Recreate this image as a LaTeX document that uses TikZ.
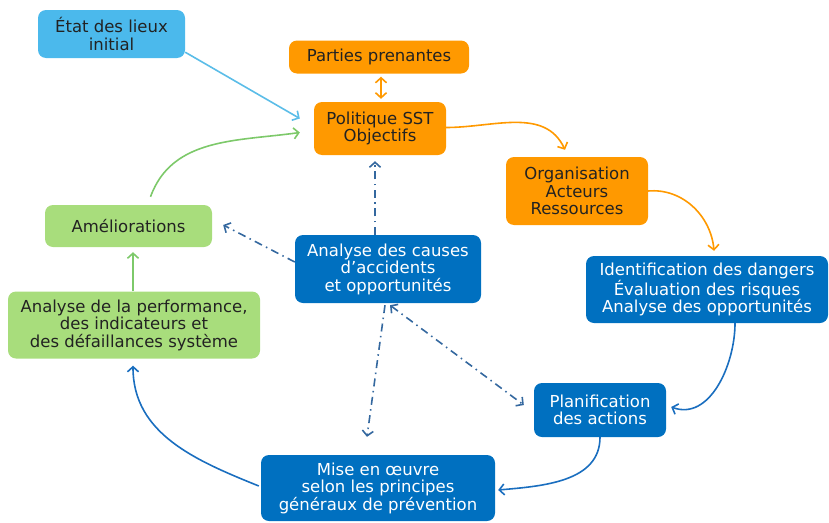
\documentclass[tikz,border=0pt]{standalone}
\usepackage{fontspec}
\setmainfont{DejaVu Sans}
\usetikzlibrary{arrows.meta,calc}

\definecolor{skyfill}{HTML}{4BB9EC}
\definecolor{skyline}{HTML}{5BBDE8}
\definecolor{orangefill}{HTML}{FF9900}
\definecolor{greenfill}{HTML}{A8DD7C}
\definecolor{greenline}{HTML}{7DC96A}
\definecolor{bluefill}{HTML}{0070C0}
\definecolor{blueline}{HTML}{1A6EBF}
\definecolor{dashline}{HTML}{34689F}
\definecolor{darktext}{HTML}{222222}

\tikzset{
  chev/.tip={Straight Barb[length=5pt,width=11pt]},
  box/.style={rounded corners=8pt, align=center, inner sep=0pt,
    font=\fontsize{16.5}{17.5}\selectfont},
  skybox/.style={box, fill=skyfill, text=darktext},
  orangebox/.style={box, fill=orangefill, text=darktext},
  greenbox/.style={box, fill=greenfill, text=darktext},
  bluebox/.style={box, fill=bluefill, text=white},
  link/.style={line width=1.6pt, -chev},
  dashlink/.style={link, color=dashline,
    dash pattern=on 8pt off 4.5pt on 1.5pt off 4.5pt},
}

\begin{document}
\begin{tikzpicture}[x=1pt,y=-1pt]
\useasboundingbox (0,0) rectangle (829,522);

% boxes
\node[skybox, minimum width=147pt, minimum height=48pt] (etat) at (111.5,34) {État des lieux\\initial};
\node[orangebox, minimum width=180pt, minimum height=33pt] (parties) at (379,57) {Parties prenantes};
\node[orangebox, minimum width=132pt, minimum height=53pt] (politique) at (380,128.5) {Politique SST\\Objectifs};
\node[orangebox, minimum width=142pt, minimum height=68pt] (organisation) at (577,191) {Organisation\\Acteurs\\Ressources};
\node[bluebox, minimum width=242pt, minimum height=67pt] (ident) at (707,289.5) {Identification des dangers\\Évaluation des risques\\Analyse des opportunités};
\node[bluebox, minimum width=132pt, minimum height=54pt] (planif) at (600,410) {Planification\\des actions};
\node[bluebox, minimum width=234pt, minimum height=66pt] (mise) at (378,488) {Mise en œuvre\\selon les principes\\généraux de prévention};
\node[bluebox, minimum width=186pt, minimum height=68pt] (causes) at (388,269) {Analyse des causes\\d’accidents\\et opportunités};
\node[greenbox, minimum width=252pt, minimum height=67pt] (perf) at (134,325) {Analyse de la performance,\\des indicateurs et\\des défaillances système};
\node[greenbox, minimum width=167pt, minimum height=42pt] (amelio) at (128.5,226) {Améliorations};

% main cycle
\draw[link, skyline] ($(etat.south east)+(0,-6)$) -- ($(politique.west)+(-14,-10)$);
\draw[line width=1.6pt, orangefill, chev-chev]
  ($(parties.south)+(2,3)$) -- ($(politique.north)+(1,-3)$);
\draw[link, orangefill] ($(politique.east)+(0,-1)$) to[out=0,in=115] ($(organisation.north)+(-12,-7)$);
\draw[link, orangefill] (organisation.east) to[out=5,in=95] ($(ident.north)+(7,-5)$);
\draw[link, blueline] ($(ident.south)+(28,0)$) to[out=-90,in=-20] ($(planif.east)+(5,-3)$);
\draw[link, blueline] (planif.south) to[out=-90,in=5] ($(mise.east)+(3,2)$);
\draw[link, blueline] ($(mise.west)+(-2,-2)$) to[out=158,in=-90] ($(perf.south)+(-1,7)$);
\draw[link, greenline] ($(perf.north)+(-1,0)$) -- ($(amelio.south)+(4.5,5)$);
\draw[link, greenline] ($(amelio.north)+(22,-8)$) to[out=70,in=188] ($(politique.west)+(-14,4)$);

% dash-dot links from the cause analysis
\draw[dashlink] ($(causes.north)+(-13,0)$) -- ($(politique.south)+(-5,6)$);
\draw[dashlink] ($(causes.west)+(0,-7)$) -- ($(amelio.east)+(11,-1)$);
\draw[dashlink] ($(causes.south)+(-3,2)$) -- ($(mise.north)+(-11,-18)$);
\draw[dashlink, chev-chev]
  ($(causes.south)+(2,2)$) -- ($(planif.west)+(-10,-5)$);
\end{tikzpicture}
\end{document}
